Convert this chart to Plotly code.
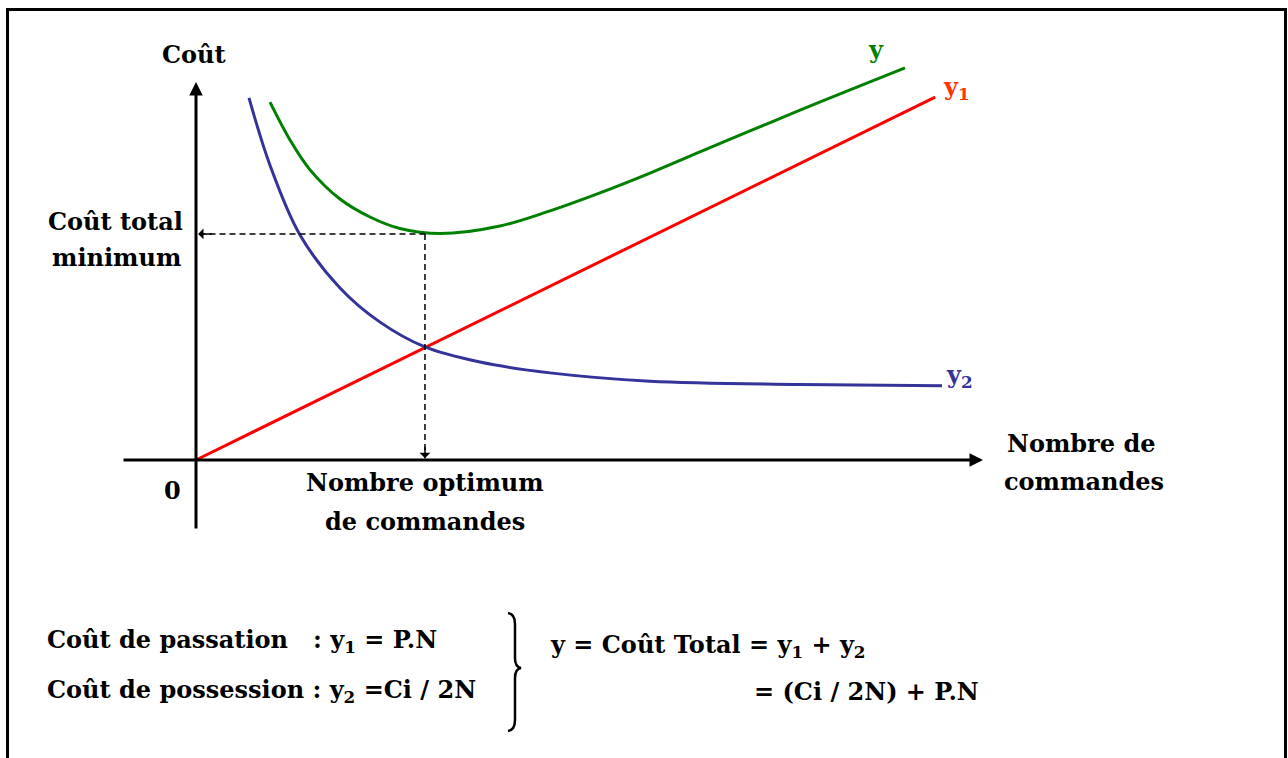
import plotly.graph_objects as go

# ---------------- data (N = number of orders, cost in arbitrary units) ----------------
n_red = [0.0, 10.56]
c_red = [0.0, 10.08]          # y1 = P.N

n_blue = [0.757, 1.057, 1.486, 2.057, 2.629, 3.271, 4.057, 5.057, 6.486, 8.629, 10.657]
c_blue = [10.06, 8.19, 6.25, 4.78, 3.83, 3.14, 2.72, 2.42, 2.19, 2.10, 2.06]   # y2 = Ci/2N

n_green = [1.057, 1.343, 1.629, 2.057, 2.486, 2.914, 3.486, 4.343, 5.057, 5.771,
           6.486, 7.2, 7.914, 8.629, 9.343, 10.129]
c_green = [9.94, 8.89, 8.06, 7.25, 6.75, 6.43, 6.29, 6.5, 6.92, 7.42,
           7.97, 8.56, 9.14, 9.72, 10.28, 10.89]  # y = y1 + y2

n_opt = 3.271
c_min = 6.28

x_axis_span = [-1.057, 11.243]
y_axis_span = [-1.944, 10.5]

# ---------------- figure geometry ----------------
W, H = 1288, 758
X0_PX, Y0_PX = 196, 460      # origin in pixels
SX, SY = 70.0, 36.0          # pixels per data unit
x_range = [-X0_PX / SX, (W - X0_PX) / SX]
y_range = [(Y0_PX - H) / SY, Y0_PX / SY]

def px(xp):
    return xp / W

def py(yp):
    return 1 - yp / H

def dx(xp):
    return (xp - X0_PX) / SX

def dy(yp):
    return (Y0_PX - yp) / SY

fig = go.Figure()

fig.add_trace(go.Scatter(x=n_red, y=c_red, mode="lines",
                         line=dict(color="#FF0000", width=3), hoverinfo="skip"))
fig.add_trace(go.Scatter(x=n_blue, y=c_blue, mode="lines", line_shape="spline",
                         line=dict(color="#33339A", width=3), hoverinfo="skip"))
fig.add_trace(go.Scatter(x=n_green, y=c_green, mode="lines", line_shape="spline",
                         line=dict(color="#008000", width=3), hoverinfo="skip"))

# dashed guides
fig.add_trace(go.Scatter(x=[0.05, n_opt], y=[c_min, c_min], mode="lines",
                         line=dict(color="black", width=1.5, dash="6px,4px"), hoverinfo="skip"))
fig.add_trace(go.Scatter(x=[n_opt, n_opt], y=[c_min, 0.05], mode="lines",
                         line=dict(color="black", width=1.5, dash="6px,4px"), hoverinfo="skip"))

ann = []
# axes with arrows
ann.append(dict(x=0, y=y_axis_span[1], ax=0, ay=y_axis_span[0], xref="x", yref="y",
                axref="x", ayref="y", showarrow=True, arrowhead=2, arrowsize=0.9,
                arrowwidth=3, arrowcolor="black", text=""))
ann.append(dict(x=x_axis_span[1], y=0, ax=x_axis_span[0], ay=0, xref="x", yref="y",
                axref="x", ayref="y", showarrow=True, arrowhead=2, arrowsize=0.9,
                arrowwidth=3, arrowcolor="black", text=""))
# small arrowheads of dashed guides
ann.append(dict(x=0.03, y=c_min, ax=0.25, ay=c_min, xref="x", yref="y",
                axref="x", ayref="y", showarrow=True, arrowhead=1, arrowsize=1.2,
                arrowwidth=1.5, arrowcolor="black", text=""))
ann.append(dict(x=n_opt, y=0.05, ax=n_opt, ay=0.4, xref="x", yref="y",
                axref="x", ayref="y", showarrow=True, arrowhead=1, arrowsize=1.2,
                arrowwidth=1.5, arrowcolor="black", text=""))

serif = "DejaVu Serif"

def label(text, xp, yp, size=24, color="black", xanchor="center"):
    ann.append(dict(x=dx(xp), y=dy(yp), xref="x", yref="y", text="<b>" + text + "</b>",
                    showarrow=False, xanchor=xanchor, yanchor="middle",
                    font=dict(family=serif, size=size, color=color)))

label("Coût", 194, 54)
label("Coût total", 115, 221)
label("minimum", 116, 257)
label("Nombre optimum", 425, 482)
label("de commandes", 425, 521)
label("Nombre de", 1081, 443)
label("commandes", 1084, 481)
label("0", 172, 490)
label("y", 876, 49, color="#008000")
label("y<sub>1</sub>", 941, 88, color="#FF3300", xanchor="left")
label("y<sub>2</sub>", 944, 376, color="#33339A", xanchor="left")

def ptext(text, xp, yp, size=24):
    ann.append(dict(x=px(xp), y=py(yp), xref="paper", yref="paper", text="<b>" + text + "</b>",
                    showarrow=False, xanchor="left", yanchor="middle",
                    font=dict(family=serif, size=size, color="black")))

nb = "\u00a0"
ptext("Coût de passation" + nb * 3 + ": y<sub>1</sub> = P.N", 45, 641)
ptext("Coût de possession : y<sub>2</sub> =Ci / 2N", 45, 691)
ptext("y = Coût Total = y<sub>1</sub> + y<sub>2</sub>", 548, 646)
ptext("= (Ci / 2N) + P.N", 752, 691)

shapes = []
# outer frame
shapes.append(dict(type="rect", xref="paper", yref="paper", x0=px(7.5), x1=px(1285.5),
                   y0=-0.05, y1=py(9.5), line=dict(color="black", width=3)))
# right curly brace
def P(xp, yp):
    return f"{px(xp):.5f},{py(yp):.5f}"
brace = ("M " + P(508, 613) + " Q " + P(515, 614) + " " + P(515, 624) +
         " L " + P(515, 658) + " Q " + P(515, 667) + " " + P(521, 668) +
         " Q " + P(515, 669) + " " + P(515, 678) +
         " L " + P(515, 720) + " Q " + P(515, 730) + " " + P(508, 731))
shapes.append(dict(type="path", xref="paper", yref="paper", path=brace,
                   line=dict(color="black", width=2.5)))

fig.update_layout(
    width=W, height=H, margin=dict(l=0, r=0, t=0, b=0),
    paper_bgcolor="white", plot_bgcolor="white", showlegend=False,
    xaxis=dict(range=x_range, visible=False, fixedrange=True),
    yaxis=dict(range=y_range, visible=False, fixedrange=True),
    annotations=ann, shapes=shapes,
)

fig.write_html("out.html", config={"displayModeBar": False},
               post_script="document.body.style.margin='0px';")
